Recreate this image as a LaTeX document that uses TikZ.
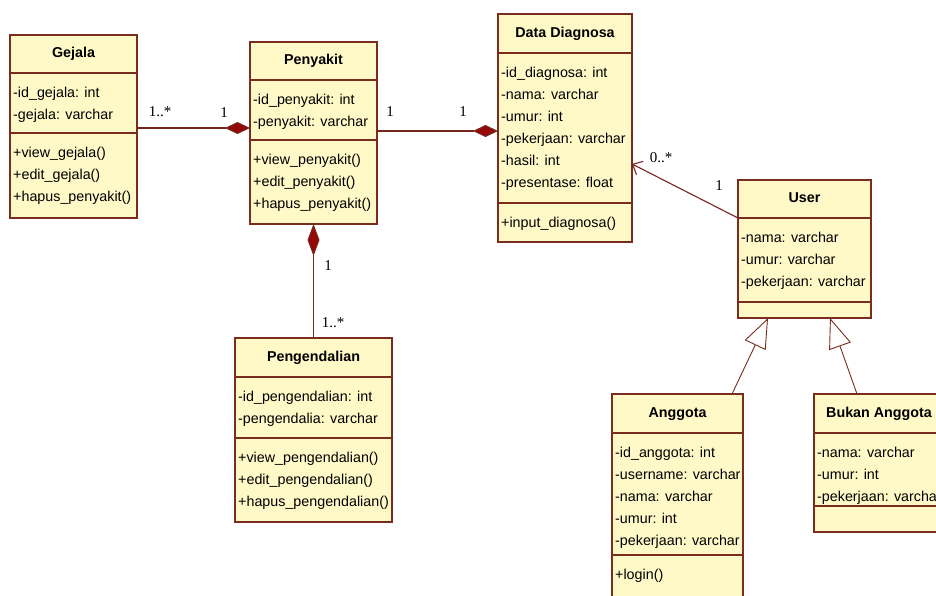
\documentclass[tikz,border=0pt]{standalone}
\usepackage{fontspec}
\setmainfont{Liberation Sans}
\newfontfamily\multfont{Liberation Serif}
\usetikzlibrary{arrows.meta,calc}
\definecolor{clsfill}{RGB}{255,249,200}
\definecolor{clsdraw}{RGB}{122,44,30}
\definecolor{lnk}{RGB}{120,36,30}
\definecolor{dmd}{RGB}{150,8,8}
\tikzset{
  clsbox/.style={draw=clsdraw, fill=clsfill, line width=1.3pt, rectangle, inner sep=0pt, outer sep=0pt},
  clsline/.style={draw=clsdraw, line width=1.3pt},
  ttl/.style={font=\fontsize{14.3}{16}\selectfont\bfseries, inner sep=0pt, text height=10.5pt, text depth=3pt},
  txt/.style={font=\fontsize{14.3}{16}\selectfont, inner sep=0pt, anchor=base west},
  mult/.style={font=\multfont\fontsize{15}{17}\selectfont, inner sep=0pt},
  comp/.style={draw=lnk, line width=1.2pt},
  assoc/.style={draw=lnk, line width=1.1pt},
  gen/.style={draw=clsdraw, line width=0.9pt, -{Triangle[open, length=30pt, width=23pt, fill=white]}},
}
% name, x1, y1, x2, y2, ytitle, yattr, title
\newcommand\umlbox[8]{%
  \node[clsbox, anchor=north west, minimum width={#4pt-#2pt}, minimum height={#5pt-#3pt}] (#1) at (#2,#3) {};
  \draw[clsline] (#2,#6) -- (#4,#6);
  \draw[clsline] (#2,#7) -- (#4,#7);
  \node[ttl] at ({(#2+#4)/2},{(#3+#6)/2}) {#8};
}
% x, ytop, list
\newcommand\umllines[3]{%
  \foreach \t [count=\i] in {#3} {\node[txt] at (#1+3, {#2+24+(\i-1)*22}) {\t};}
}
\begin{document}
\begin{tikzpicture}[x=1pt, y=-1pt]
\useasboundingbox (0,0) rectangle (936,595);
\fill[white] (0,0) rectangle (936,595);
\clip (0,0) rectangle (936,595);

% Gejala
\umlbox{gej}{10}{35}{137}{218}{73}{133}{Gejala}
\umllines{10}{73}{-id\_gejala: int, -gejala: varchar}
\umllines{10}{133}{+view\_gejala(), +edit\_gejala(), +hapus\_penyakit()}

% Penyakit
\umlbox{pen}{250}{42}{377}{224}{80}{140}{Penyakit}
\umllines{250}{80}{-id\_penyakit: int, -penyakit: varchar}
\umllines{250}{140}{+view\_penyakit(), +edit\_penyakit(), +hapus\_penyakit()}

% Data Diagnosa
\umlbox{dd}{498}{14}{632}{242}{53}{203}{Data Diagnosa}
\umllines{498}{53}{-id\_diagnosa: int, -nama: varchar, -umur: int, -pekerjaan: varchar, -hasil: int, -presentase: float}
\umllines{498}{203}{+input\_diagnosa()}

% User
\umlbox{usr}{738}{180}{871}{318}{218}{302}{User}
\umllines{738}{218}{-nama: varchar, -umur: varchar, -pekerjaan: varchar}

% Pengendalian
\umlbox{peng}{235}{338}{392}{522}{377}{438}{Pengendalian}
\umllines{235}{377}{-id\_pengendalian: int, -pengendalia: varchar}
\umllines{235}{438}{+view\_pengendalian(), +edit\_pengendalian(), +hapus\_pengendalian()}

% Anggota
\umlbox{ang}{612}{394}{743}{600}{433}{555}{Anggota}
\umllines{612}{433}{-id\_anggota: int, -username: varchar, -nama: varchar, -umur: int, -pekerjaan: varchar}
\umllines{612}{555}{+login()}

% Bukan Anggota
\umlbox{buk}{814}{394}{952}{532}{433}{506}{}
\node[ttl, anchor=west] at (826,413.5) {Bukan Anggota};
\umllines{814}{433}{-nama: varchar, -umur: int, -pekerjaan: varchar}

% connectors
\draw[comp, -{Diamond[length=25pt, width=12pt, fill=dmd]}]
  ($(gej.north east)+(0,93)$) -- ($(pen.north west)+(0,86)$);
\draw[comp, -{Diamond[length=25pt, width=12pt, fill=dmd]}]
  ($(pen.north east)+(0,89)$) -- ($(dd.north west)+(0,117)$);
\draw[comp, {Diamond[length=32pt, width=12pt, fill=dmd]}-]
  (pen.south) -- (peng.north);
\draw[assoc, -{Straight Barb[length=8pt, width=15pt]}]
  ($(usr.north west)+(0,38)$) -- ($(dd.north east)+(0,150)$);
\draw[gen] ($(ang.north west)+(120,0)$) -- ($(usr.south west)+(30,0)$);
\draw[gen] ($(buk.north west)+(43,0)$) -- ($(usr.south west)+(92,0)$);

% multiplicities
\node[mult] (m1) at (160,112) {1..*};
\node[mult] (m2) at (224,113) {1};
\node[mult] (m3) at (390,112) {1};
\node[mult] (m4) at (463,112) {1};
\node[mult] (m5) at (328,266) {1};
\node[mult] (m6) at (333,323) {1..*};
\node[mult] (m7) at (661,158) {0..*};
\node[mult] (m8) at (719,186) {1};
\end{tikzpicture}
\end{document}
